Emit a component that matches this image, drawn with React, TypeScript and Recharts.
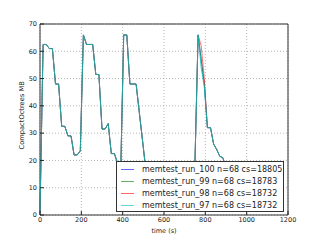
import { LineChart, Line, XAxis, YAxis, CartesianGrid, ReferenceArea, Legend } from "recharts";

// sample times (s), 68 samples every 15 s
const times = Array.from({ length: 68 }, (_, i) => i * 15);

const run100 = [
  1, 62.5, 62.5, 61, 61, 48, 48, 32.5, 32.5, 29, 29, 22, 22, 23.5,
  66, 62.5, 62.5, 62.5, 51.5, 51.5, 31.5, 31.5, 33.5, 22.5, 22.5, 19, 14,
  66, 66, 48, 48, 48, 38, 28, 18, 15, 15, 12, 12, 10, 10, 8, 8, 6, 6, 5, 5, 4, 4, 4, 20,
  66, 57, 48, 32, 32, 26, 24, 21.5, 21, 17, 14, 12, 10, 8, 7, 6, 5,
];
const run99 = [
  1, 62.5, 62.5, 61, 61, 48, 48, 32.5, 32.5, 29, 29, 22, 22, 23.5,
  66, 62.5, 62.5, 62.5, 51.5, 51.5, 31.5, 31.5, 33.5, 22.5, 22.5, 19, 14,
  66, 66, 48, 48, 48, 38, 28, 18, 15, 15, 12, 12, 10, 10, 8, 8, 6, 6, 5, 5, 4, 4, 4, 20,
  66, 57, 48, 32, 32, 26, 24, 21.5, 21, 17, 14, 12, 10, 8, 7, 6, 5,
];
const run98 = [
  1, 62.5, 62.5, 61, 61, 48, 48, 32.5, 32.5, 29, 29, 22, 22, 23.5,
  66, 62.5, 62.5, 62.5, 51.5, 51.5, 31.5, 31.5, 33.5, 22.5, 22.5, 19, 14,
  66, 66, 48, 48, 48, 38, 28, 18, 15, 15, 12, 12, 10, 10, 8, 8, 6, 6, 5, 5, 4, 4, 4, 20,
  66, 62, 50, 32, 32, 26, 24, 21.5, 21, 17, 14, 12, 10, 8, 7, 6, 5,
];
const run97 = [
  1, 62.5, 62.5, 61, 61, 48, 48, 32.5, 32.5, 29, 29, 22, 22, 23.5,
  66, 62.5, 62.5, 62.5, 51.5, 51.5, 31.5, 31.5, 33.5, 22.5, 22.5, 19, 14,
  66, 66, 48, 48, 48, 38, 28, 18, 15, 15, 12, 12, 10, 10, 8, 8, 6, 6, 5, 5, 4, 4, 4, 20,
  66, 54, 47, 32, 32, 26, 24, 21.5, 21, 17, 14, 12, 10, 8, 7, 6, 5,
];

const xTicks = [0, 200, 400, 600, 800, 1000, 1200];
const yTicks = [0, 10, 20, 30, 40, 50, 60, 70];

const series = [
  { key: "r100", name: "memtest_run_100 n=68 cs=18805", color: "#0000ff", op: 0.55 },
  { key: "r99", name: "memtest_run_99 n=68 cs=18783", color: "#008000", op: 0.55 },
  { key: "r98", name: "memtest_run_98 n=68 cs=18732", color: "#ff0000", op: 0.55 },
  { key: "r97", name: "memtest_run_97 n=68 cs=18732", color: "#00bfbf", op: 0.8 },
];

const data = times.map((t, i) => ({
  t,
  r100: run100[i],
  r99: run99[i],
  r98: run98[i],
  r97: run97[i],
}));

const font = "'DejaVu Sans', sans-serif";

const LegendBox = () => (
  <div
    style={{
      border: "1px solid #333",
      background: "#fff",
      width: 168,
      height: 51,
      boxSizing: "border-box",
      padding: "1px 0 0 4px",
      fontFamily: font,
      fontSize: 8,
      color: "#222",
    }}
  >
    {series.map((s) => (
      <div key={s.key} style={{ display: "flex", alignItems: "center", height: 12 }}>
        <span
          style={{
            display: "inline-block",
            width: 13,
            height: 1,
            background: s.color,
            opacity: 0.6,
            marginRight: 8,
          }}
        />
        <span style={{ whiteSpace: "nowrap" }}>{s.name}</span>
      </div>
    ))}
  </div>
);

export default function App() {
  return (
    <div style={{ position: "absolute", left: 0, top: 0, width: 320, height: 240, background: "#fff" }}>
      <LineChart width={320} height={240} data={data} margin={{ top: 24, right: 32, bottom: 0, left: 0 }}>
        <CartesianGrid stroke="#888" strokeDasharray="1 2" strokeWidth={0.6} />
        <XAxis
          dataKey="t"
          type="number"
          domain={[0, 1200]}
          ticks={xTicks}
          height={25}
          tickSize={-4}
          tickMargin={6}
          axisLine={false}
          tickLine={{ stroke: "#222" }}
          tick={{ fontSize: 6.5, fill: "#222", fontFamily: font }}
          label={{ value: "time (s)", position: "insideBottom", offset: 7, fontSize: 6.5, fill: "#222", fontFamily: font }}
        />
        <YAxis
          type="number"
          domain={[0, 70]}
          ticks={yTicks}
          width={40}
          tickSize={-4}
          tickMargin={7}
          axisLine={false}
          tickLine={{ stroke: "#222" }}
          tick={{ fontSize: 6.5, fill: "#222", fontFamily: font }}
          label={{
            value: "CompactOctrees MB",
            angle: -90,
            position: "insideLeft",
            offset: 22,
            dy: 30,
            fontSize: 6.7,
            fill: "#222",
            fontFamily: font,
          }}
        />
        <ReferenceArea x1={0} x2={1200} y1={0} y2={70} fill="none" stroke="#333" strokeWidth={1} />
        {series.map((s) => (
          <Line
            key={s.key}
            dataKey={s.key}
            name={s.name}
            type="linear"
            stroke={s.color}
            strokeOpacity={s.op}
            strokeWidth={1}
            dot={false}
            isAnimationActive={false}
          />
        ))}
        <Legend
          layout="vertical"
          align="center"
          verticalAlign="middle"
          content={() => <LegendBox />}
          wrapperStyle={{ position: "absolute", left: 116, top: 161, width: 168, height: 51 }}
        />
      </LineChart>
    </div>
  );
}
